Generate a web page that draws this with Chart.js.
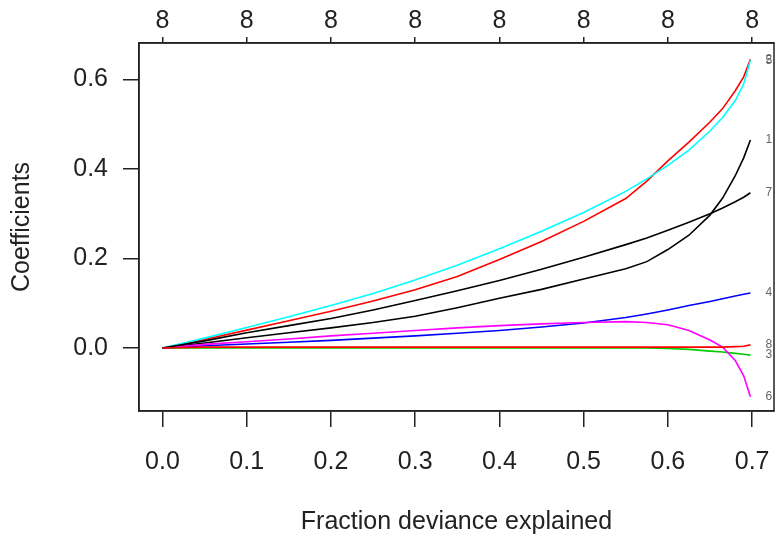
<!DOCTYPE html>
<html>
<head>
<meta charset="utf-8">
<script src="https://cdn.jsdelivr.net/npm/chart.js@4.4.1/dist/chart.umd.min.js"></script>
<style>
  html, body { margin: 0; padding: 0; background: #fff; }
  #wrap { width: 784px; height: 544px; }
</style>
</head>
<body>
<div id="wrap"><canvas id="c" width="784" height="544"></canvas></div>
<script>
// Fraction deviance explained (x grid)
const devFrac = [0, 0.05, 0.1, 0.15, 0.2, 0.25, 0.3, 0.35, 0.4, 0.45, 0.5, 0.55, 0.575, 0.6, 0.625, 0.65, 0.665, 0.68, 0.69, 0.698];

// Coefficient paths, variables 1..8
const coef1 = [0, 0.011, 0.023, 0.034, 0.045, 0.057, 0.071, 0.090, 0.111, 0.131, 0.154, 0.177, 0.193, 0.220, 0.252, 0.297, 0.335, 0.385, 0.425, 0.465];
const coef2 = [0, 0.019, 0.040, 0.061, 0.082, 0.105, 0.130, 0.160, 0.198, 0.238, 0.283, 0.334, 0.373, 0.418, 0.460, 0.505, 0.535, 0.575, 0.606, 0.645];
const coef3 = [0, 0, 0, 0, 0, 0, 0, 0, 0, 0, 0, 0, 0, -0.001, -0.003, -0.007, -0.009, -0.012, -0.014, -0.016];
const coef4 = [0, 0.005, 0.009, 0.013, 0.017, 0.022, 0.027, 0.033, 0.039, 0.047, 0.056, 0.068, 0.076, 0.085, 0.095, 0.104, 0.110, 0.116, 0.120, 0.123];
const coef5 = [0, 0.022, 0.046, 0.070, 0.095, 0.122, 0.152, 0.185, 0.222, 0.261, 0.303, 0.350, 0.378, 0.408, 0.442, 0.485, 0.515, 0.553, 0.590, 0.643];
const coef6 = [0, 0.008, 0.014, 0.020, 0.027, 0.033, 0.039, 0.045, 0.050, 0.054, 0.057, 0.059, 0.057, 0.052, 0.039, 0.018, 0.002, -0.028, -0.062, -0.109];
const coef7 = [0, 0.016, 0.034, 0.050, 0.066, 0.085, 0.106, 0.128, 0.151, 0.176, 0.203, 0.231, 0.246, 0.263, 0.281, 0.300, 0.313, 0.327, 0.337, 0.347];
const coef8 = [0, 0.002, 0.002, 0.002, 0.002, 0.002, 0.002, 0.002, 0.002, 0.002, 0.002, 0.002, 0.002, 0.002, 0.002, 0.002, 0.002, 0.003, 0.004, 0.007];

const varLabels = ["1", "2", "3", "4", "5", "6", "7", "8"];
const varColors = ["#000000", "#FF0000", "#00CD00", "#0000FF", "#00FFFF", "#FF00FF", "#000000", "#FF0000"];
const allCoefs = [coef1, coef2, coef3, coef4, coef5, coef6, coef7, coef8];

const xTicks = [0, 0.1, 0.2, 0.3, 0.4, 0.5, 0.6, 0.7];
const yTicks = [0, 0.2, 0.4, 0.6];
const topLabels = ["8", "8", "8", "8", "8", "8", "8", "8"];

const X_MIN = -0.0279, X_MAX = 0.726;
const Y_MIN = -0.1408, Y_MAX = 0.6816;

const FONT = "'Liberation Sans', Arial, Helvetica, sans-serif";
const AXIS_COLOR = '#222';

const datasets = allCoefs.map((arr, i) => ({
  label: varLabels[i],
  data: devFrac.map((x, k) => ({ x: x, y: arr[k] })),
  borderColor: varColors[i],
  backgroundColor: varColors[i],
  borderWidth: 1.6,
  pointRadius: 0,
  tension: 0,
  fill: false,
  order: 20 - i
}));

const boxAndLabels = {
  id: 'boxAndLabels',
  afterDatasetsDraw(chart) {
    const ctx = chart.ctx;
    const xs = chart.scales.x, ys = chart.scales.y;
    ctx.save();
    ctx.font = "12px " + FONT;
    ctx.fillStyle = '#666';
    ctx.textAlign = 'left';
    ctx.textBaseline = 'middle';
    chart.data.datasets.forEach(ds => {
      const last = ds.data[ds.data.length - 1];
      ctx.fillText(ds.label, xs.getPixelForValue(last.x) + 15, ys.getPixelForValue(last.y));
    });
    ctx.restore();
  },
  afterDraw(chart) {
    const a = chart.chartArea;
    const ctx = chart.ctx;
    ctx.save();
    ctx.strokeStyle = AXIS_COLOR;
    ctx.lineWidth = 1.5;
    ctx.strokeRect(a.left, a.top, a.right - a.left, a.bottom - a.top);
    ctx.restore();
  }
};

function fitX(h) {
  return s => { s.height = h; s.paddingLeft = 0; s.paddingRight = 0; };
}

new Chart(document.getElementById('c'), {
  type: 'line',
  data: { datasets: datasets },
  options: {
    responsive: false,
    animation: false,
    layout: { padding: { left: 0, right: 10, top: 0, bottom: 0 } },
    plugins: { legend: { display: false }, tooltip: { enabled: false } },
    scales: {
      x: {
        type: 'linear', position: 'bottom', min: X_MIN, max: X_MAX,
        afterBuildTicks: s => { s.ticks = xTicks.map(v => ({ value: v })); },
        afterFit: fitX(133),
        ticks: { callback: v => Number(v).toFixed(1), font: { size: 25, family: FONT }, color: AXIS_COLOR, padding: 20, maxRotation: 0, autoSkip: false },
        grid: { drawOnChartArea: false, drawTicks: true, tickLength: 16, color: AXIS_COLOR, lineWidth: 1.5 },
        border: { display: true, color: AXIS_COLOR, width: 1.5 },
        title: { display: true, text: 'Fraction deviance explained', font: { size: 25, family: FONT }, color: AXIS_COLOR, padding: { top: 0, bottom: 7 } }
      },
      x2: {
        type: 'linear', position: 'top', min: X_MIN, max: X_MAX,
        afterBuildTicks: s => { s.ticks = xTicks.map(v => ({ value: v })); },
        afterFit: fitX(43),
        ticks: { callback: (v, i) => topLabels[i], font: { size: 25, family: FONT }, color: AXIS_COLOR, padding: 1, maxRotation: 0, autoSkip: false },
        grid: { drawOnChartArea: false, drawTicks: true, tickLength: 6, color: AXIS_COLOR, lineWidth: 1.5 },
        border: { display: true, color: AXIS_COLOR, width: 1.5 }
      },
      y: {
        type: 'linear', position: 'left', min: Y_MIN, max: Y_MAX,
        afterBuildTicks: s => { s.ticks = yTicks.map(v => ({ value: v })); },
        afterFit: s => { s.width = 139; },
        ticks: { callback: v => Number(v).toFixed(1), font: { size: 25, family: FONT }, color: AXIS_COLOR, padding: 15, autoSkip: false },
        grid: { drawOnChartArea: false, drawTicks: true, tickLength: 16, color: AXIS_COLOR, lineWidth: 1.5 },
        border: { display: true, color: AXIS_COLOR, width: 1.5 },
        title: { display: true, text: 'Coefficients', font: { size: 25, family: FONT }, color: AXIS_COLOR, padding: { top: 7, bottom: 0 } }
      }
    }
  },
  plugins: [boxAndLabels]
});
</script>
</body>
</html>
